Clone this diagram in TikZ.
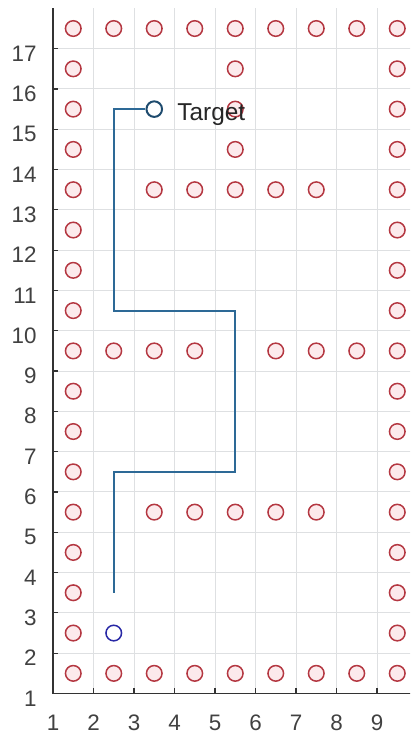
\documentclass[tikz,border=0pt]{standalone}
\usepackage{fontspec}
\setmainfont{Liberation Sans}
\definecolor{obsred}{RGB}{180,55,65}
\definecolor{obsfill}{RGB}{252,234,236}
\definecolor{pathblue}{RGB}{45,105,150}
\definecolor{startblue}{RGB}{40,40,165}
\definecolor{tgtblue}{RGB}{30,75,110}
\definecolor{ticktxt}{RGB}{65,65,65}
\definecolor{gridcol}{RGB}{222,224,226}
\begin{document}
\begin{tikzpicture}[x=20.25pt,y=20.15pt,
  gridline/.style={draw=gridcol, line width=0.5pt},
  axisline/.style={draw=black!80, line width=0.6pt},
  obst/.style={circle, draw=obsred, fill=obsfill, line width=0.75pt, minimum size=7.8pt, inner sep=0pt},
  startmk/.style={circle, draw=startblue, line width=0.75pt, minimum size=7.8pt, inner sep=0pt},
  tgtmk/.style={circle, draw=tgtblue, fill=white, line width=1pt, minimum size=7.8pt, inner sep=0pt},
  route/.style={draw=pathblue, line width=1pt},
  ylab/.style={anchor=east, text=ticktxt, font=\fontsize{11.2}{13}\selectfont, inner sep=0pt},
  xlab/.style={anchor=center, text=ticktxt, font=\fontsize{11.2}{13}\selectfont, inner sep=0pt},
  tlabel/.style={anchor=base west, text=black!85, font=\fontsize{12.2}{14}\selectfont, inner sep=0pt}]
\useasboundingbox (-0.3086,-0.154) rectangle (9.8148,18.208);
\begin{scope}
\clip (-0.3086,-0.154) rectangle (9.8148,18.208);
% grid
\foreach \gx in {2,...,9} \draw[gridline] (\gx,1) -- (\gx,18);
\foreach \gy in {2,...,17} \draw[gridline] (1,\gy) -- (10,\gy);
% axes
\draw[axisline] (1,18) -- (1,1) -- (10,1);
\foreach \gx in {2,...,9} \draw[axisline] (\gx,1) -- (\gx,1.124);
\foreach \gy in {2,...,17} \draw[axisline] (1,\gy) -- (1.123,\gy);
\end{scope}
% tick labels
\foreach \gy in {1,...,17} \node[ylab] (yl\gy) at (0.605,\gy-0.12) {\gy};
\foreach \gx in {1,...,9} \node[xlab] (xl\gx) at (\gx,0.268) {\gx};
% obstacles
\foreach \oy/\oxs in {17/{1,2,3,4,5,6,7,8,9}, 16/{1,5,9}, 15/{1,5,9}, 14/{1,5,9},
  13/{1,3,4,5,6,7,9}, 12/{1,9}, 11/{1,9}, 10/{1,9},
  9/{1,2,3,4,6,7,8,9}, 8/{1,9}, 7/{1,9}, 6/{1,9},
  5/{1,3,4,5,6,7,9}, 4/{1,9}, 3/{1,9}, 2/{1,9}, 1/{1,2,3,4,5,6,7,8,9}}
  {\foreach \ox in \oxs \node[obst] (o-\ox-\oy) at (\ox+0.5,\oy+0.5) {};}
% start marker
\node[startmk] (start) at (2.5,2.5) {};
% route
\coordinate (p0) at (2.5,3.5);
\coordinate (p1) at (2.5,6.5);
\coordinate (p2) at (5.5,6.5);
\coordinate (p3) at (5.5,10.5);
\coordinate (p4) at (2.5,10.5);
\coordinate (p5) at (2.5,15.5);
\node[tgtmk] (tgt) at (3.5,15.5) {};
\draw[route] (p0) -- (p1) -- (p2) -- (p3) -- (p4) -- (p5) -- (tgt.west);
\node[tlabel] (tgtlabel) at (4.06,15.23) {Target};
\end{tikzpicture}
\end{document}
